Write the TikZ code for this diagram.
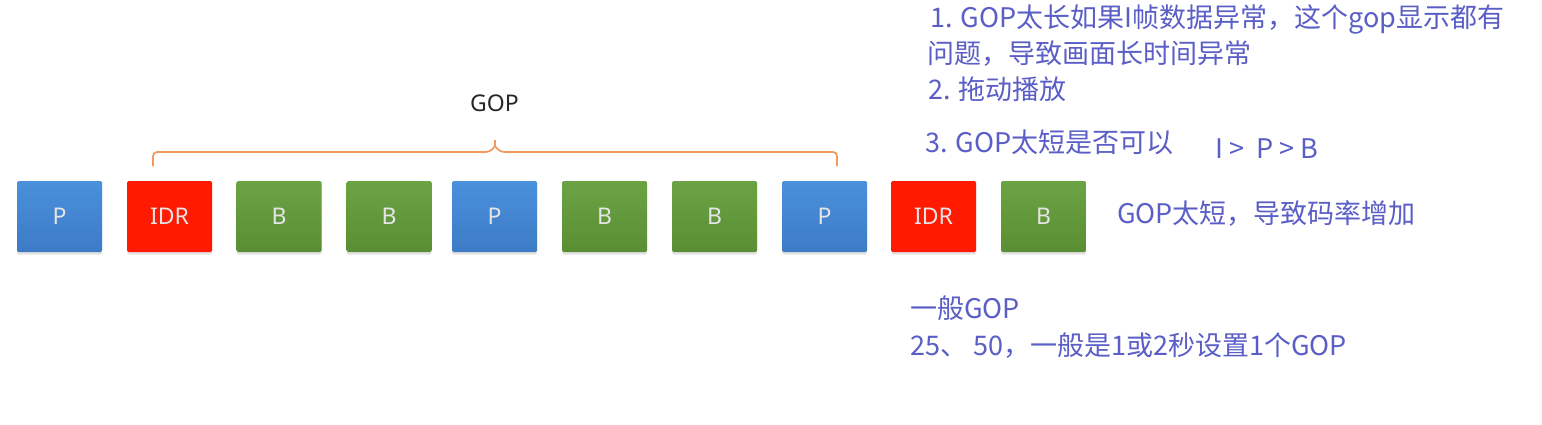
\documentclass[tikz,border=0pt]{standalone}
\usepackage{fontspec}
\setmainfont{Noto Sans}
\newfontfamily\cjk{Noto Sans CJK SC}
\usetikzlibrary{shadows}
\definecolor{pblue}{HTML}{4A90DB}
\definecolor{pblueD}{HTML}{3D7BC6}
\definecolor{idrred}{HTML}{FF1A00}
\definecolor{bgreen}{HTML}{6BA344}
\definecolor{bgreenD}{HTML}{5A8E34}
\definecolor{note}{HTML}{5A5EC6}
\definecolor{brace}{HTML}{F09A5E}
\tikzset{
  frame/.style={minimum width=85pt, minimum height=71pt, inner sep=0pt, rounded corners=1.5pt,
    text=white!90!black, font=\fontsize{23}{23}\selectfont,
    drop shadow={shadow xshift=0pt, shadow yshift=-2.5pt, opacity=0.22}},
  pf/.style={frame, top color=pblue, bottom color=pblueD},
  idrf/.style={frame, fill=idrred},
  bf/.style={frame, top color=bgreen, bottom color=bgreenD},
  notetext/.style={anchor=base west, inner sep=0pt, text=note, font=\cjk\fontsize{27}{27}\selectfont},
}
\begin{document}
\begin{tikzpicture}[x=1pt,y=-1pt]
\useasboundingbox[fill=white] (0,0) rectangle (1542,425);
% frames
\node[pf]   (f1)  at (59.5,216.5) {P};
\node[idrf] (f2)  at (169.5,216.5) {IDR};
\node[bf]   (f3)  at (279,216.5) {B};
\node[bf]   (f4)  at (389,216.5) {B};
\node[pf]   (f5)  at (494.5,216.5) {P};
\node[bf]   (f6)  at (604.5,216.5) {B};
\node[bf]   (f7)  at (714.5,216.5) {B};
\node[pf]   (f8)  at (824.5,216.5) {P};
\node[idrf] (f9)  at (933.5,216.5) {IDR};
\node[bf]   (f10) at (1043.5,216.5) {B};
% brace
\draw[brace, line width=1.7pt, rounded corners=4pt]
  (153,166) -- (153,152) -- (490,152) -- (495,146);
\draw[brace, line width=1.7pt, rounded corners=4pt]
  (837,166) -- (837,152) -- (500,152) -- (495,146);
\draw[brace, line width=1.7pt] (495,146) -- (495,140);
\node[anchor=base, inner sep=0pt, text=black!85, font=\fontsize{23}{23}\selectfont] (gop) at (494.5,112) {GOP};
% notes
\node[notetext] (n1) at (930,28) {1. GOP太长如果I帧数据异常，这个gop显示都有};
\node[notetext] (n2) at (927,64) {问题，导致画面长时间异常};
\node[notetext] (n3) at (928,100) {2. 拖动播放};
\node[notetext] (n4) at (925,153) {3. GOP太短是否可以};
\node[notetext] (n5) at (1215,158) {I >\ \ P > B};
\node[notetext] (n6) at (1117,223) {GOP太短，导致码率增加};
\node[notetext] (n7) at (910,318) {一般GOP};
\node[notetext] (n8) at (910,355) {25、 50，一般是1或2秒设置1个GOP};
\end{tikzpicture}
\end{document}
